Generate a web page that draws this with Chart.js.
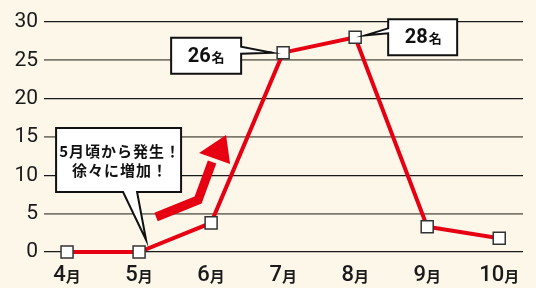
<!DOCTYPE html>
<html lang="ja">
<head>
<meta charset="UTF-8">
<title>月別の推移</title>
<script src="https://cdn.jsdelivr.net/npm/chart.js"></script>
<style>
    html, body { margin: 0; padding: 0; background: #fdf7ea; }
    #wrap { width: 536px; height: 288px; position: relative; }
</style>
</head>
<body>
<div id="wrap"><canvas id="chart" width="536" height="288"></canvas></div>
<script>
const months = ['4月', '5月', '6月', '7月', '8月', '9月', '10月'];
const counts = [0, 0, 3.8, 26, 28, 3.3, 1.8];
const yTicks = [0, 5, 10, 15, 20, 25, 30];
const noteText = ['5月頃から発生！', '徐々に増加！'];
const unit = '名';

const RED = '#e60012';
const JP = '"Noto Sans CJK JP", sans-serif';

// callout box with a pointed tail
function callout(ctx, l, t, r, b, side, a, c, tip) {
    ctx.beginPath();
    ctx.moveTo(l, t);
    if (side === 'left') {
        ctx.lineTo(r, t); ctx.lineTo(r, b); ctx.lineTo(l, b);
        ctx.lineTo(l, c); ctx.lineTo(tip[0], tip[1]); ctx.lineTo(l, a);
    } else if (side === 'right') {
        ctx.lineTo(r, t); ctx.lineTo(r, a); ctx.lineTo(tip[0], tip[1]); ctx.lineTo(r, c);
        ctx.lineTo(r, b); ctx.lineTo(l, b);
    } else {
        ctx.lineTo(r, t); ctx.lineTo(r, b); ctx.lineTo(c, b);
        ctx.lineTo(tip[0], tip[1]); ctx.lineTo(a, b); ctx.lineTo(l, b);
    }
    ctx.closePath();
    ctx.fillStyle = '#fff';
    ctx.fill();
    ctx.lineWidth = 2;
    ctx.strokeStyle = '#111';
    ctx.lineJoin = 'miter';
    ctx.stroke();
}

// number big + 名 small, centred at cx
function countLabel(ctx, n, cx, base) {
    const big = 'bold 20px Roboto, sans-serif';
    const small = 'bold 13px ' + JP;
    const s = String(n);
    ctx.font = big; const w1 = ctx.measureText(s).width;
    ctx.font = small; const w2 = ctx.measureText(unit).width;
    const x0 = cx - (w1 + w2 + 1) / 2;
    ctx.fillStyle = '#111';
    ctx.textAlign = 'left';
    ctx.textBaseline = 'alphabetic';
    ctx.font = big; ctx.fillText(s, x0, base);
    ctx.font = small; ctx.fillText(unit, x0 + w1 + 1, base);
}

const decorations = {
    id: 'decorations',
    afterDraw(chart) {
        const ctx = chart.ctx;
        const xs = chart.scales.x, ys = chart.scales.y;
        const px = i => xs.getPixelForValue(i);
        const py = i => ys.getPixelForValue(counts[i]);
        ctx.save();

        // month labels: big digits + small 月
        months.forEach((m, i) => {
            const num = m.slice(0, -1), tail = m.slice(-1);
            const f1 = '500 22px Roboto, sans-serif', f2 = 'bold 15px ' + JP;
            ctx.font = f1; const w1 = ctx.measureText(num).width;
            ctx.font = f2; const w2 = ctx.measureText(tail).width;
            const x0 = px(i) - (w1 + w2) / 2;
            ctx.fillStyle = '#1a1a1a';
            ctx.textAlign = 'left';
            ctx.textBaseline = 'alphabetic';
            ctx.font = f1; ctx.fillText(num, x0, 281);
            ctx.font = f2; ctx.fillText(tail, x0 + w1, 282);
        });

        // red arrow
        const ax = px(1), ay = py(1);
        ctx.beginPath();
        ctx.moveTo(ax + 17, ay - 35);
        ctx.lineTo(ax + 59, ay - 52);
        ctx.lineTo(ax + 73, ay - 90);
        ctx.lineWidth = 9;
        ctx.lineJoin = 'miter';
        ctx.lineCap = 'butt';
        ctx.strokeStyle = RED;
        ctx.stroke();
        ctx.beginPath();
        ctx.moveTo(ax + 60, ay - 99);
        ctx.lineTo(ax + 87, ay - 117);
        ctx.lineTo(ax + 91, ay - 88);
        ctx.closePath();
        ctx.fillStyle = RED;
        ctx.fill();

        // 5月 note
        callout(ctx, ax - 83, ay - 124, ax + 42, ay - 60, 'bottom', ax - 16, ax - 2, [ax + 7, ay - 12]);
        ctx.fillStyle = '#111';
        ctx.font = 'bold 15px ' + JP;
        ctx.letterSpacing = '1px';
        ctx.textAlign = 'center';
        ctx.textBaseline = 'middle';
        const mid = ax - 19;
        ctx.fillText(noteText[0], mid, ay - 101);
        ctx.fillText(noteText[1], mid, ay - 82);
        ctx.letterSpacing = '0px';

        // 7月 peak label
        const p7x = px(3), p7y = py(3);
        callout(ctx, p7x - 112, p7y - 15, p7x - 42, p7y + 21, 'right', p7y - 6, p7y + 1, [p7x - 11, p7y]);
        countLabel(ctx, counts[3], p7x - 77, p7y + 9);

        // 8月 peak label
        const p8x = px(4), p8y = py(4);
        callout(ctx, p8x + 33, p8y - 18, p8x + 102, p8y + 18, 'left', p8y - 9, p8y - 4, [p8x + 10, p8y - 2]);
        countLabel(ctx, counts[4], p8x + 68, p8y + 6);

        ctx.restore();
    }
};

new Chart(document.getElementById('chart'), {
    type: 'line',
    data: {
        datasets: [{
            data: counts.map((v, i) => ({ x: i, y: v })),
            borderColor: RED,
            borderWidth: 4,
            pointStyle: 'rect',
            pointRadius: 8.5,
            pointBackgroundColor: '#fff',
            pointBorderColor: '#333',
            pointBorderWidth: 1.5,
            tension: 0,
            clip: false
        }]
    },
    options: {
        responsive: false,
        animation: false,
        devicePixelRatio: 1,
        layout: { padding: { top: 22, right: 13, left: 0, bottom: 0 } },
        plugins: { legend: { display: false }, tooltip: { enabled: false } },
        scales: {
            x: {
                type: 'linear',
                min: -0.32,
                max: 6.33,
                grid: { display: false },
                border: { display: false },
                ticks: { display: false },
                afterFit: s => { s.height = 36; }
            },
            y: {
                min: 0,
                max: 30,
                afterBuildTicks: s => { s.ticks = yTicks.map(v => ({ value: v })); },
                border: { display: false },
                grid: {
                    drawTicks: false,
                    color: c => (c.tick && c.tick.value % 10 === 0) ? '#1a1a1a' : '#7d786c',
                    lineWidth: c => (c.tick && c.tick.value % 10 === 0) ? 1.2 : 1.8
                },
                ticks: {
                    padding: 6,
                    color: '#1a1a1a',
                    font: { family: 'Roboto, sans-serif', size: 21 }
                },
                afterFit: s => { s.width = 44; }
            }
        }
    },
    plugins: [decorations]
});
</script>
</body>
</html>
